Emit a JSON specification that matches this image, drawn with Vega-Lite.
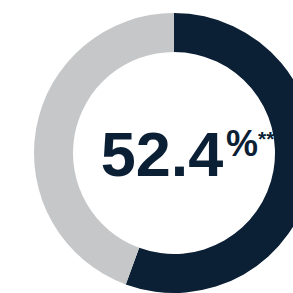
{
  "$schema": "https://vega.github.io/schema/vega-lite/v6.json",
  "width": 348,
  "height": 306,
  "padding": 0,
  "autosize": "none",
  "background": "white",
  "config": {"view": {"stroke": null}},
  "layer": [
    {
      "data": {"values": [
        {"category": "Share", "value": 55.6, "rank": 1},
        {"category": "Rest", "value": 44.4, "rank": 2}
      ]},
      "mark": {"type": "arc", "radius": 140, "innerRadius": 101},
      "encoding": {
        "theta": {"field": "value", "type": "quantitative", "stack": true},
        "order": {"field": "rank", "type": "quantitative"},
        "color": {
          "field": "category", "type": "nominal",
          "scale": {"domain": ["Share", "Rest"], "range": ["#0B1F35", "#C6C7C9"]},
          "legend": null
        }
      }
    },
    {
      "data": {"values": [{"t": "52.4"}]},
      "mark": {"type": "text", "font": "Liberation Sans", "fontWeight": "bold", "fontSize": 63, "align": "center", "baseline": "alphabetic", "dx": -12, "dy": 23, "color": "#0B1F35"},
      "encoding": {"text": {"field": "t"}}
    },
    {
      "data": {"values": [{"t": "%"}]},
      "mark": {"type": "text", "font": "Liberation Sans", "fontWeight": "bold", "fontSize": 36, "align": "left", "baseline": "alphabetic", "dx": 52, "dy": 3, "color": "#0B1F35"},
      "encoding": {"text": {"field": "t"}}
    },
    {
      "data": {"values": [{"t": "**"}]},
      "mark": {"type": "text", "font": "Liberation Sans", "fontWeight": "bold", "fontSize": 21, "align": "left", "baseline": "alphabetic", "dx": 84, "dy": -7, "color": "#0B1F35"},
      "encoding": {"text": {"field": "t"}}
    }
  ]
}
